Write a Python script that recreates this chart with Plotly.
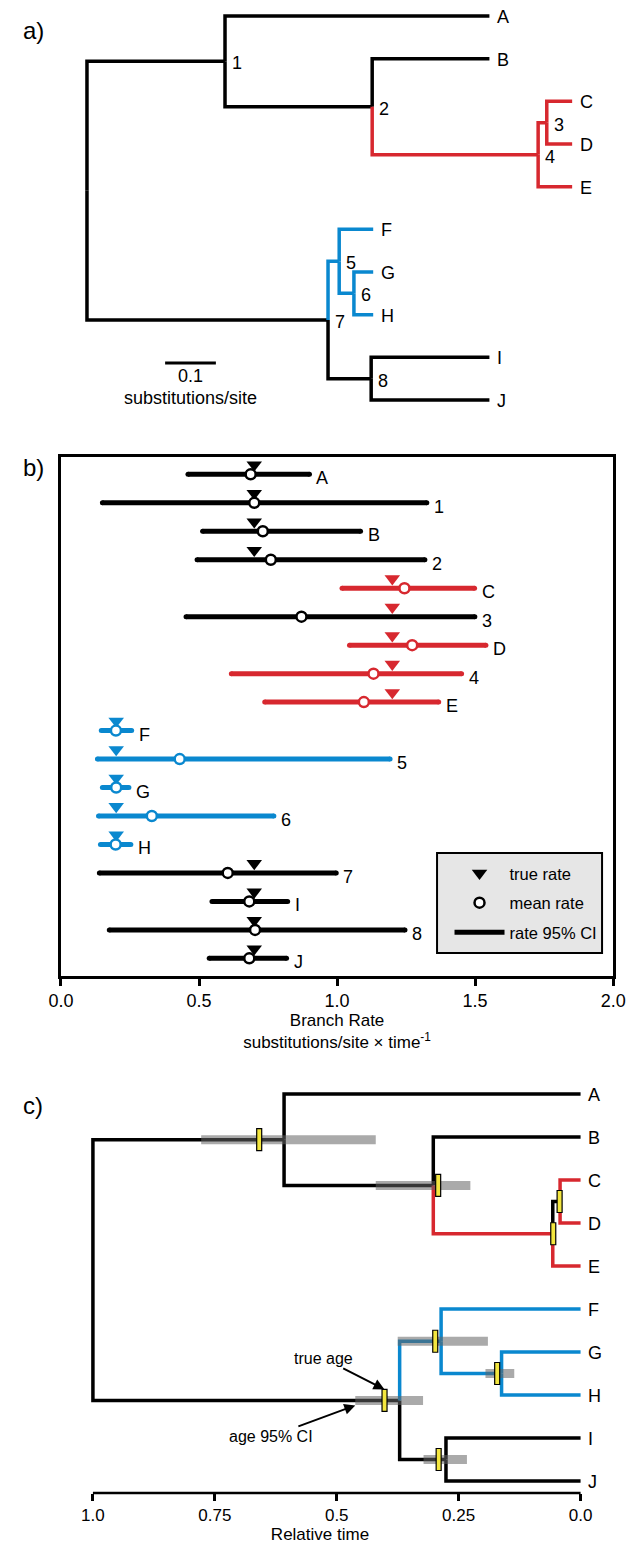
import plotly.graph_objects as go

# ------------------------------------------------------------------
# Tree shared by all three panels
# ------------------------------------------------------------------
TIPS = ["A", "B", "C", "D", "E", "F", "G", "H", "I", "J"]
INTERNAL_NODES = ["1", "2", "3", "4", "5", "6", "7", "8"]
CHILDREN = {
    "root": ["1", "7"],
    "1": ["A", "2"],
    "2": ["B", "4"],
    "4": ["3", "E"],
    "3": ["C", "D"],
    "7": ["5", "8"],
    "5": ["F", "6"],
    "6": ["G", "H"],
    "8": ["I", "J"],
}

# branch lengths in substitutions/site, keyed by the node each branch leads to
BRANCH_SUBST = {
    "1": 0.272, "A": 0.521, "2": 0.290, "B": 0.231, "4": 0.327,
    "3": 0.017, "C": 0.050, "D": 0.050, "E": 0.067,
    "7": 0.475, "5": 0.022, "F": 0.067, "6": 0.029, "G": 0.038,
    "H": 0.038, "8": 0.085, "I": 0.233, "J": 0.233,
}

# rate classes of the branches (true and estimated)
FAST_TRUE = ["4", "3", "C", "D", "E"]
SLOW_TRUE = ["5", "F", "6", "G", "H"]
FAST_EST = ["4", "C", "D", "E"]
SLOW_EST = ["5", "F", "6", "G", "H"]

# ------------------------------------------------------------------
# Branch rates (panel b)
# ------------------------------------------------------------------
RATE_ROWS = ["A", "1", "B", "2", "C", "3", "D", "4", "E",
             "F", "5", "G", "6", "H", "7", "I", "8", "J"]
RATE_TRUE = [0.70, 0.70, 0.70, 0.70, 1.20, 1.20, 1.20, 1.20, 1.20,
             0.20, 0.20, 0.20, 0.20, 0.20, 0.70, 0.70, 0.70, 0.70]
RATE_MEAN = [0.687, 0.700, 0.731, 0.760, 1.244, 0.871, 1.272, 1.132, 1.097,
             0.199, 0.430, 0.200, 0.329, 0.198, 0.604, 0.682, 0.703, 0.682]
RATE_CI_LO = [0.460, 0.150, 0.513, 0.493, 1.018, 0.453, 1.045, 0.617, 0.738,
              0.146, 0.132, 0.150, 0.136, 0.143, 0.139, 0.547, 0.175, 0.537]
RATE_CI_HI = [0.900, 1.325, 1.085, 1.318, 1.498, 1.499, 1.539, 1.451, 1.368,
              0.256, 1.192, 0.246, 0.771, 0.253, 0.997, 0.821, 1.246, 0.817]
RATE_TICKS = [0.0, 0.5, 1.0, 1.5, 2.0]
RATE_TICK_TEXT = ["0.0", "0.5", "1.0", "1.5", "2.0"]

# ------------------------------------------------------------------
# Node ages (panel c)
# ------------------------------------------------------------------
AGE_MEAN = {"root": 1.0, "1": 0.608, "2": 0.302, "4": 0.057, "3": 0.042,
            "7": 0.371, "5": 0.286, "6": 0.162, "8": 0.276}
AGE_TRUE = {"1": 0.659, "2": 0.292, "4": 0.056, "3": 0.043,
            "7": 0.402, "5": 0.298, "6": 0.171, "8": 0.291}
AGE_CI_OLD = {"1": 0.778, "2": 0.420, "7": 0.462, "5": 0.375, "6": 0.195, "8": 0.322}
AGE_CI_YOUNG = {"1": 0.420, "2": 0.226, "7": 0.323, "5": 0.190, "6": 0.136, "8": 0.233}
TIME_TICKS = [1.0, 0.75, 0.5, 0.25, 0.0]
TIME_TICK_TEXT = ["1.0", "0.75", "0.5", "0.25", "0.0"]

SCALE_BAR = 0.1

# ------------------------------------------------------------------
# Styling and page geometry (pixels)
# ------------------------------------------------------------------
FIG_W, FIG_H = 640, 1545
BLACK, RED, BLUE = "#000000", "#d7282f", "#0a88cf"
CI_GREY = "rgba(100,100,100,0.55)"
YELLOW = "#f3e63f"
FONT = "Liberation Sans, Arial, Helvetica, sans-serif"
FS = 18
AXIS_FS = 17
TREE_W = 3.5

A_TOP, A_BOT = 0.0, 420.0
A_X0_PX, A_PX_PER_UNIT = 77.1, 529.0
A_ROW0_PX, A_ROW_PITCH = 16.0, 42.67

B_LEFT, B_RIGHT, B_TOP, B_BOT = 50.0, 625.6, 456.7, 976.0
B_ROW_PAD = 0.62
B_ROW_PITCH = (B_BOT - B_TOP) / (len(RATE_ROWS) - 1 + 2 * B_ROW_PAD)

C_TOP, C_BOT = 1060.0, 1493.0
C_AGE1_PX, C_AGE0_PX = 83.3, 591.6
C_ROW0_PX, C_ROW_PITCH = 1094.0, 43.0
C_PX_PER_UNIT = C_AGE0_PX - C_AGE1_PX


def paper_y(px):
    return 1.0 - px / FIG_H


# ------------------------------------------------------------------
# Tree layout
# ------------------------------------------------------------------
def node_rows():
    ys = {}

    def walk(n):
        if n in CHILDREN:
            vals = [walk(c) for c in CHILDREN[n]]
            ys[n] = (vals[0] + vals[-1]) / 2.0
        else:
            ys[n] = float(TIPS.index(n))
        return ys[n]

    walk("root")
    return ys


def subst_positions():
    xs = {"root": 0.0}

    def walk(n):
        for c in CHILDREN.get(n, []):
            xs[c] = xs[n] + BRANCH_SUBST[c]
            walk(c)

    walk("root")
    return xs


ROW = node_rows()
XSUB = subst_positions()
AGE = dict(AGE_MEAN)
for t in TIPS:
    AGE[t] = 0.0


def branch_paths(xpos, fast, slow):
    segs = {BLACK: ([], []), RED: ([], []), BLUE: ([], [])}
    for p, kids in CHILDREN.items():
        for c in kids:
            col = RED if c in fast else BLUE if c in slow else BLACK
            xx, yy = segs[col]
            xx += [xpos[p], xpos[p], xpos[c], None]
            yy += [ROW[p], ROW[c], ROW[c], None]
    return segs


fig = go.Figure()

# ---------------- panel a: substitution tree ----------------
for col, (xx, yy) in branch_paths(XSUB, FAST_TRUE, SLOW_TRUE).items():
    fig.add_trace(go.Scatter(x=xx, y=yy, mode="lines", xaxis="x", yaxis="y",
                             line=dict(color=col, width=TREE_W),
                             showlegend=False, hoverinfo="skip"))

SB_X0, SB_ROW = 0.154, 8.13
fig.add_trace(go.Scatter(x=[SB_X0, SB_X0 + SCALE_BAR], y=[SB_ROW, SB_ROW],
                         mode="lines", xaxis="x", yaxis="y",
                         line=dict(color=BLACK, width=3),
                         showlegend=False, hoverinfo="skip"))

annotations = []
for t in TIPS:
    annotations.append(dict(x=XSUB[t], y=ROW[t], xref="x", yref="y", text=t,
                            showarrow=False, xanchor="left", xshift=6, yshift=-1))
for n in INTERNAL_NODES:
    annotations.append(dict(x=XSUB[n], y=ROW[n], xref="x", yref="y", text=n,
                            showarrow=False, xanchor="left", xshift=5, yshift=-2))
annotations.append(dict(x=SB_X0 + SCALE_BAR / 2, y=SB_ROW, xref="x", yref="y",
                        text=str(SCALE_BAR), showarrow=False, yanchor="middle",
                        yshift=-13))
annotations.append(dict(x=SB_X0 + SCALE_BAR / 2, y=SB_ROW, xref="x", yref="y",
                        text="substitutions/site", showarrow=False,
                        yanchor="middle", yshift=-35))

# ---------------- panel b: branch rates ----------------
def cls_color(name, fast, slow):
    return RED if name in fast else BLUE if name in slow else BLACK


est_cols = [cls_color(r, FAST_EST, SLOW_EST) for r in RATE_ROWS]
true_cols = [cls_color(r, FAST_TRUE, SLOW_TRUE) for r in RATE_ROWS]
TRI_SIZE = 13.5
TRI_LIFT = 9.5 / B_ROW_PITCH

for col in (BLACK, RED, BLUE):
    xx, yy = [], []
    for i, c in enumerate(est_cols):
        if c == col:
            xx += [RATE_CI_LO[i], RATE_CI_HI[i], None]
            yy += [i, i, None]
    fig.add_trace(go.Scatter(x=xx, y=yy, mode="lines+markers", xaxis="x2", yaxis="y2",
                             line=dict(color=col, width=5),
                             marker=dict(color=col, size=5, symbol="circle"),
                             showlegend=False, hoverinfo="skip"))

for col in (BLACK, RED, BLUE):
    idx = [i for i, c in enumerate(true_cols) if c == col]
    fig.add_trace(go.Scatter(x=[RATE_TRUE[i] for i in idx], y=[i - TRI_LIFT for i in idx],
                             mode="markers", xaxis="x2", yaxis="y2",
                             marker=dict(symbol="triangle-down", size=TRI_SIZE, color=col,
                                         line=dict(width=0)),
                             showlegend=False, hoverinfo="skip"))

for col in (BLACK, RED, BLUE):
    idx = [i for i, c in enumerate(est_cols) if c == col]
    fig.add_trace(go.Scatter(x=[RATE_MEAN[i] for i in idx], y=idx,
                             mode="markers", xaxis="x2", yaxis="y2",
                             marker=dict(symbol="circle", size=10, color="white",
                                         line=dict(color=col, width=2.5)),
                             showlegend=False, hoverinfo="skip"))

for i, r in enumerate(RATE_ROWS):
    annotations.append(dict(x=RATE_CI_HI[i], y=i, xref="x2", yref="y2", text=r,
                            showarrow=False, xanchor="left", xshift=5, yshift=-4))

# legend entries
fig.add_trace(go.Scatter(x=[None], y=[None], mode="markers", name="true rate",
                         legendgroup="t", xaxis="x2", yaxis="y2",
                         marker=dict(symbol="triangle-down", size=TRI_SIZE, color=BLACK)))
fig.add_trace(go.Scatter(x=[None], y=[None], mode="markers", name="mean rate",
                         legendgroup="m", xaxis="x2", yaxis="y2",
                         marker=dict(symbol="circle", size=10, color="white",
                                     line=dict(color=BLACK, width=2.5))))
fig.add_trace(go.Scatter(x=[None], y=[None], mode="lines", name="rate 95% CI",
                         legendgroup="c", xaxis="x2", yaxis="y2",
                         line=dict(color=BLACK, width=5)))

# ---------------- panel c: time tree ----------------
for col, (xx, yy) in branch_paths(AGE, FAST_EST, SLOW_EST).items():
    fig.add_trace(go.Scatter(x=xx, y=yy, mode="lines", xaxis="x3", yaxis="y3",
                             line=dict(color=col, width=TREE_W),
                             showlegend=False, hoverinfo="skip"))

ci_x, ci_y = [], []
for n in INTERNAL_NODES:
    if n in AGE_CI_OLD:
        ci_x += [AGE_CI_OLD[n], AGE_CI_YOUNG[n], None]
        ci_y += [ROW[n], ROW[n], None]
fig.add_trace(go.Scatter(x=ci_x, y=ci_y, mode="lines", xaxis="x3", yaxis="y3",
                         line=dict(color=CI_GREY, width=9),
                         showlegend=False, hoverinfo="skip"))

shapes = []
for n in INTERNAL_NODES:
    shapes.append(dict(type="rect", xref="x3", yref="y3",
                       xsizemode="pixel", ysizemode="pixel",
                       xanchor=AGE_TRUE[n], yanchor=ROW[n],
                       x0=-2.5, x1=2.5, y0=-11, y1=11,
                       fillcolor=YELLOW, line=dict(color=BLACK, width=1.2),
                       layer="above"))

for t in TIPS:
    annotations.append(dict(x=AGE[t], y=ROW[t], xref="x3", yref="y3", text=t,
                            showarrow=False, xanchor="left", xshift=5, yshift=-1))

annotations.append(dict(x=AGE_TRUE["7"], y=ROW["7"], xref="x3", yref="y3",
                        text="true age", font=dict(size=16), showarrow=True,
                        arrowhead=2, arrowsize=1.1, arrowwidth=2, arrowcolor=BLACK,
                        ax=-61, ay=-31, yshift=11))
annotations.append(dict(x=AGE_CI_OLD["7"], y=ROW["7"], xref="x3", yref="y3",
                        text="age 95% CI", font=dict(size=16), showarrow=True,
                        arrowhead=2, arrowsize=1.1, arrowwidth=2, arrowcolor=BLACK,
                        ax=-84, ay=31, yshift=-5))

# time axis baseline spanning the tick range
shapes.append(dict(type="line", xref="x3", yref="paper",
                   x0=TIME_TICKS[0], x1=TIME_TICKS[-1],
                   y0=paper_y(C_BOT), y1=paper_y(C_BOT),
                   line=dict(color=BLACK, width=2.5)))

# legend box of panel b
shapes.append(dict(type="rect", xref="paper", yref="paper",
                   x0=442 / FIG_W, x1=614 / FIG_W, y0=paper_y(953), y1=paper_y(853),
                   fillcolor="#e6e6e6", line=dict(color=BLACK, width=2), layer="below"))

# panel letters
for letter, ypx in (("a)", 31), ("b)", 467), ("c)", 1105)):
    annotations.append(dict(x=8 / FIG_W, y=paper_y(ypx), xref="paper", yref="paper",
                            text=letter, showarrow=False, xanchor="left",
                            yanchor="middle", font=dict(size=24)))

fig.update_layout(
    width=FIG_W, height=FIG_H,
    margin=dict(l=0, r=0, t=0, b=0),
    paper_bgcolor="white", plot_bgcolor="rgba(0,0,0,0)",
    font=dict(family=FONT, size=FS, color=BLACK),
    showlegend=True,
    legend=dict(x=455 / FIG_W, y=paper_y(856), xanchor="left", yanchor="top",
                bgcolor="rgba(0,0,0,0)", borderwidth=0, font=dict(size=16.5),
                itemwidth=50, traceorder="grouped", tracegroupgap=5),
    xaxis=dict(domain=[0, 1], visible=False,
               range=[-A_X0_PX / A_PX_PER_UNIT, (FIG_W - A_X0_PX) / A_PX_PER_UNIT]),
    yaxis=dict(domain=[paper_y(A_BOT), paper_y(A_TOP)], visible=False,
               range=[(A_BOT - A_ROW0_PX) / A_ROW_PITCH, (A_TOP - A_ROW0_PX) / A_ROW_PITCH]),
    xaxis2=dict(anchor="y2", domain=[B_LEFT / FIG_W, B_RIGHT / FIG_W], range=[0, 2],
                showline=True, mirror=True, linecolor=BLACK, linewidth=2.5,
                ticks="outside", ticklen=7, tickwidth=2.5, tickcolor=BLACK,
                tickvals=RATE_TICKS, ticktext=RATE_TICK_TEXT,
                tickfont=dict(size=FS),
                showgrid=False, zeroline=False,
                title=dict(text="Branch Rate<br>substitutions/site \u00d7 time<sup>-1</sup>",
                           standoff=1, font=dict(size=AXIS_FS))),
    yaxis2=dict(anchor="x2", domain=[paper_y(B_BOT), paper_y(B_TOP)],
                range=[len(RATE_ROWS) - 1 + B_ROW_PAD, -B_ROW_PAD],
                showline=True, mirror=True, linecolor=BLACK, linewidth=2.5,
                showticklabels=False, ticks="", showgrid=False, zeroline=False),
    xaxis3=dict(anchor="y3", domain=[0, 1],
                range=[1 + C_AGE1_PX / C_PX_PER_UNIT, -(FIG_W - C_AGE0_PX) / C_PX_PER_UNIT],
                showline=False, ticks="outside", ticklen=7, tickwidth=2.5, tickcolor=BLACK,
                tickvals=TIME_TICKS, ticktext=TIME_TICK_TEXT,
                tickfont=dict(size=AXIS_FS),
                showgrid=False, zeroline=False,
                title=dict(text="Relative time", standoff=3, font=dict(size=AXIS_FS))),
    yaxis3=dict(anchor="x3", domain=[paper_y(C_BOT), paper_y(C_TOP)], visible=False,
                range=[(C_BOT - C_ROW0_PX) / C_ROW_PITCH, (C_TOP - C_ROW0_PX) / C_ROW_PITCH]),
    annotations=annotations,
    shapes=shapes,
)

fig.write_html("out.html")
